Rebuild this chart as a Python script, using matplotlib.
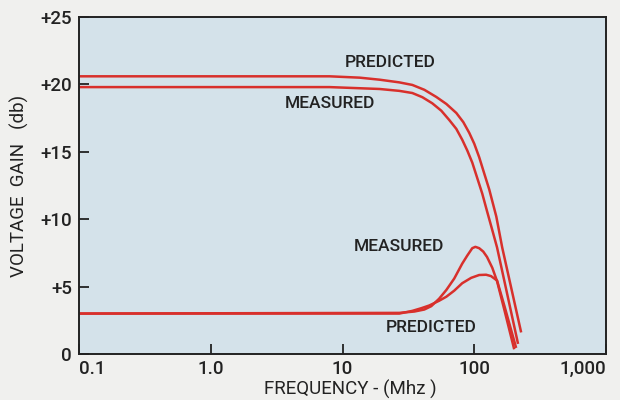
import matplotlib
matplotlib.use("Agg")
import matplotlib.pyplot as plt
from matplotlib.ticker import FixedLocator, NullLocator

# ---- data ----
freq_pred_top = [0.1, 5, 7.97, 13.5, 19.1, 27.0, 33.9, 41.8, 51.5, 61.4, 73.1, 82.6,
                 91.7, 100, 109, 119, 130, 147, 163, 227]
gain_pred_top = [20.6, 20.6, 20.6, 20.5, 20.35, 20.15, 19.96, 19.6, 19.07, 18.55, 17.88, 17.2,
                 16.4, 15.6, 14.6, 13.4, 12.2, 10.2, 7.9, 1.6]

freq_meas_top = [0.1, 5, 7.97, 19.1, 27.0, 33.9, 40.4, 48, 56.2, 64.6, 73.1, 81, 88.5,
                 96.6, 105, 115, 125, 137, 149, 215]
gain_meas_top = [19.8, 19.8, 19.8, 19.66, 19.52, 19.36, 19.05, 18.6, 18.05, 17.36, 16.7, 15.9, 15.1,
                 14.2, 13.1, 11.9, 10.6, 9.2, 7.9, 0.75]

freq_meas_bot = [0.1, 27, 35.1, 41.8, 47.2, 54.1, 61.4, 70.5, 81, 88.5, 96.6, 102, 109,
                 117, 125, 137, 149, 169, 201]
gain_meas_bot = [3.0, 3.05, 3.15, 3.3, 3.55, 4.1, 4.75, 5.6, 6.7, 7.3, 7.85, 7.95, 7.85,
                 7.6, 7.2, 6.4, 5.4, 3.3, 0.35]

freq_pred_bot = [0.1, 27, 33.9, 39.7, 45.6, 54.1, 61.4, 70.5, 81, 94.8, 109, 123, 134,
                 149, 169, 208]
gain_pred_bot = [3.0, 3.0, 3.2, 3.4, 3.6, 3.95, 4.25, 4.7, 5.25, 5.65, 5.86, 5.88, 5.78,
                 5.45, 3.6, 0.45]

x_ticks = [0.1, 1, 10, 100, 1000]
x_tick_labels = ["0.1", "1.0", "10", "100", "1,000"]
y_ticks = [0, 5, 10, 15, 20, 25]
y_tick_labels = ["0", "+5", "+10", "+15", "+20", "+25"]

labels = ["PREDICTED", "MEASURED", "MEASURED", "PREDICTED"]
label_freq = [23.1, 7.97, 27.0, 47.2]
label_gain = [21.6, 18.6, 7.94, 2.0]

# ---- style ----
red = "#d8302c"
ink = "#222222"
plt.rcParams["font.family"] = ["Roboto", "DejaVu Sans"]
plt.rcParams["font.weight"] = "medium"

fig = plt.figure(figsize=(6.2, 4.0), dpi=100, facecolor="#f0f0ee")
ax = fig.add_axes([79 / 620, 1 - 354 / 400, 527 / 620, 337 / 400])
ax.set_facecolor("#d4e2ea")

for f, g in [(freq_pred_top, gain_pred_top), (freq_meas_top, gain_meas_top),
             (freq_meas_bot, gain_meas_bot), (freq_pred_bot, gain_pred_bot)]:
    ax.plot(f, g, color=red, lw=1.8, solid_capstyle="butt", solid_joinstyle="round")

ax.set_xscale("log")
ax.set_xlim(0.1, 1000)
ax.set_ylim(0, 25)

ax.xaxis.set_major_locator(FixedLocator(x_ticks))
ax.xaxis.set_minor_locator(NullLocator())
ax.set_xticklabels(x_tick_labels)
ax.set_yticks(y_ticks)
ax.set_yticklabels(y_tick_labels)

ax.tick_params(axis="both", direction="in", length=7, width=1.3, color=ink,
               labelsize=13.5, labelcolor=ink)
ax.tick_params(axis="x", pad=4)
ax.tick_params(axis="y", pad=5)
xl = ax.get_xticklabels()
xl[0].set_ha("left")
xl[-1].set_ha("right")

for s in ax.spines.values():
    s.set_color(ink)
    s.set_linewidth(1.4)

ax.set_ylabel("VOLTAGE  GAIN   (db)", fontsize=13.5, color=ink)
ax.yaxis.set_label_coords(-0.094, 0.5)
ax.set_xlabel("FREQUENCY - (Mhz )", fontsize=13.5, color=ink)
ax.xaxis.set_label_coords(0.514, -0.078)

for t, f, g in zip(labels, label_freq, label_gain):
    ax.text(f, g, t, fontsize=12.5, color=ink, ha="center", va="center")

fig.savefig("out.png", dpi=100, facecolor=fig.get_facecolor())
